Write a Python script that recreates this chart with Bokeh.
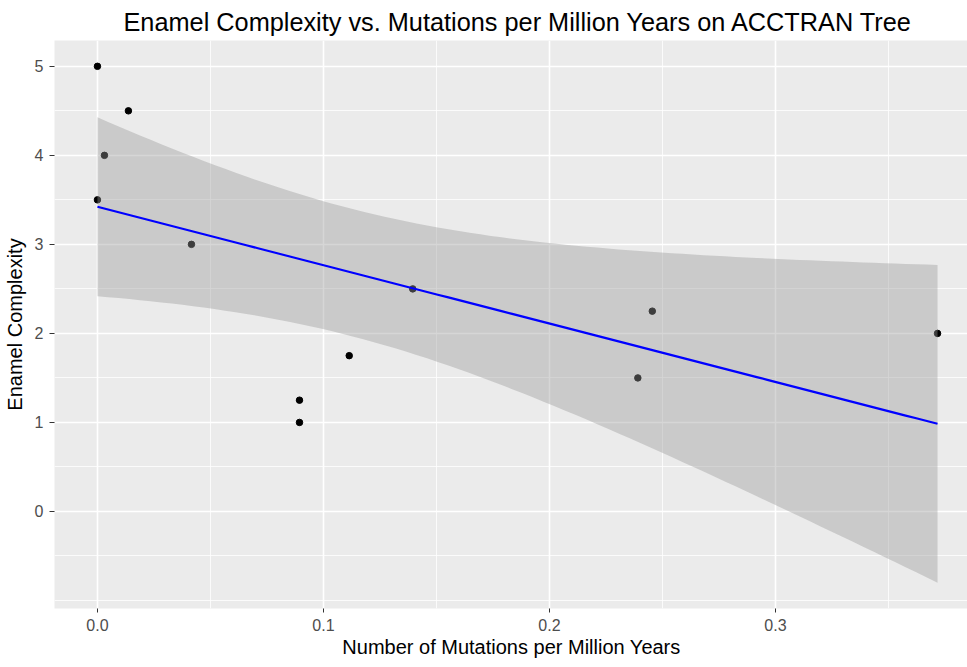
import numpy as np
from bokeh.plotting import figure
from bokeh.models import FixedTicker, Range1d, ColumnDataSource
from bokeh.embed import file_html
from bokeh.resources import INLINE

# ---- data ----
mutations = [0.0, 0.0, 0.0031, 0.0137, 0.0416, 0.0894, 0.0894, 0.1114, 0.1395, 0.2391, 0.2455, 0.3717]
complexity = [5.0, 3.5, 4.0, 4.5, 3.0, 1.25, 1.0, 1.75, 2.5, 1.5, 2.25, 2.0]

x_ticks = [0.0, 0.1, 0.2, 0.3]
x_tick_labels = ["0.0", "0.1", "0.2", "0.3"]
x_minor = [0.05, 0.15, 0.25, 0.35]
y_ticks = [0, 1, 2, 3, 4, 5]
y_tick_labels = ["0", "1", "2", "3", "4", "5"]
y_minor = [-1.0, -0.5, 0.5, 1.5, 2.5, 3.5, 4.5]

title_text = "Enamel Complexity vs. Mutations per Million Years on ACCTRAN Tree"
x_title = "Number of Mutations per Million Years"
y_title = "Enamel Complexity"

# ---- linear model smooth (lm, 95% CI) as geom_smooth does ----
x = np.array(mutations)
y = np.array(complexity)
n = len(x)
slope, intercept = np.polyfit(x, y, 1)
resid = y - (intercept + slope * x)
s = np.sqrt(np.sum(resid ** 2) / (n - 2))
xs = np.linspace(x.min(), x.max(), 80)
se = s * np.sqrt(1.0 / n + (xs - x.mean()) ** 2 / np.sum((x - x.mean()) ** 2))
t_crit = 2.2281388519649385  # qt(0.975, 10)
fit = intercept + slope * xs
band = ColumnDataSource(dict(x=xs, fit=fit, lo=fit - t_crit * se, hi=fit + t_crit * se))
pts = ColumnDataSource(dict(x=mutations, y=complexity))

FONT = "Liberation Sans"

p = figure(frame_width=914, frame_height=568,
           x_range=Range1d(-0.019, 0.3854), y_range=Range1d(-1.09, 5.29),
           output_backend="svg", toolbar_location=None,
           min_border_left=45, min_border_right=0, min_border_top=34, min_border_bottom=49)

p.background_fill_color = "#EBEBEB"
p.border_fill_color = "white"
p.outline_line_color = None

# title
p.title.text = title_text
p.title.text_font = FONT
p.title.text_font_size = "25.3px"
p.title.text_font_style = "normal"
p.title.text_color = "black"
p.title.align = "left"
p.title.offset = 69

# axes
p.xaxis.ticker = FixedTicker(ticks=x_ticks, minor_ticks=x_minor)
p.xaxis.major_label_overrides = {t: l for t, l in zip(x_ticks, x_tick_labels)}
p.yaxis.ticker = FixedTicker(ticks=y_ticks, minor_ticks=y_minor)
p.yaxis.major_label_overrides = {t: l for t, l in zip(y_ticks, y_tick_labels)}
p.xaxis.axis_label = x_title
p.yaxis.axis_label = y_title
for ax in (p.xaxis, p.yaxis):
    ax.axis_line_color = None
    ax.major_tick_line_color = "#333333"
    ax.major_tick_line_width = 1
    ax.major_tick_in = 0
    ax.major_tick_out = 5
    ax.minor_tick_line_color = None
    ax.major_label_text_font = FONT
    ax.major_label_text_font_size = "16px"
    ax.major_label_text_color = "#4D4D4D"
    ax.axis_label_text_font = FONT
    ax.axis_label_text_font_size = "20px"
    ax.axis_label_text_font_style = "normal"
    ax.axis_label_text_color = "black"
p.xaxis.major_tick_out = 4
p.xaxis.major_label_standoff = 6
p.yaxis.major_label_standoff = 6
p.xaxis.axis_label_standoff = 2
p.yaxis.axis_label_standoff = 6

# grid
p.grid.grid_line_color = "white"
p.grid.grid_line_width = 1.6
p.grid.minor_grid_line_color = "white"
p.grid.minor_grid_line_width = 0.8

# layers: points, then band, then line (ggplot order)
p.scatter("x", "y", source=pts, size=6.5, color="black")
p.varea(x="x", y1="lo", y2="hi", source=band, fill_color="#999999", fill_alpha=0.4)
p.line("x", "fit", source=band, line_color="#0000FF", line_width=2.2)

open("out.html", "w").write(file_html(p, INLINE))
